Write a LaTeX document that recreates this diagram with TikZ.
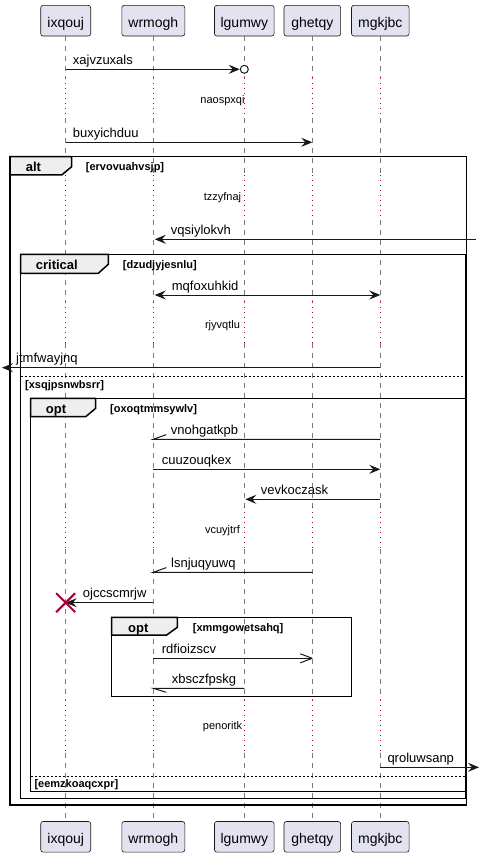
\documentclass[tikz,border=0pt]{standalone}
\usepackage{fontspec}
\setmainfont{Liberation Sans}
\usetikzlibrary{arrows.meta,calc}

\definecolor{partfill}{HTML}{E2E2F0}
\definecolor{ink}{HTML}{181818}
\definecolor{lifegray}{HTML}{7A7A7A}
\definecolor{delayred}{HTML}{A80036}
\definecolor{tabfill}{HTML}{EEEEEE}

\tikzset{
  part/.style={draw=ink, line width=0.6pt, fill=partfill, rounded corners=2.5pt,
    inner sep=0pt, minimum height=30.7pt, text height=13.2pt, text depth=0pt,
    font=\fontsize{14}{16}\selectfont},
  life/.style={lifegray, line width=0.7pt, dash pattern=on 5pt off 5pt},
  delayseg/.style={delayred, line width=0.9pt, dash pattern=on 1pt off 4pt},
  msg/.style={ink, line width=1pt},
  fullhead/.style={-{Stealth[length=11pt,width=9pt,inset=4pt]}},
  bothheads/.style={{Stealth[length=11pt,width=9pt,inset=4pt]}-{Stealth[length=11pt,width=9pt,inset=4pt]}},
  lbl/.style={anchor=base west, inner sep=0pt, font=\fontsize{13}{15}\selectfont},
  delaytxt/.style={anchor=base, inner sep=0pt, font=\fontsize{11}{13}\selectfont},
  frame/.style={draw=black, line width=1.5pt},
  tab/.style={draw=black, fill=tabfill, line width=1.5pt, line join=miter},
  tabtxt/.style={anchor=base west, inner sep=0pt, font=\fontsize{13}{15}\selectfont\bfseries},
  condtxt/.style={anchor=base west, inner sep=0pt, font=\fontsize{11}{13}\selectfont\bfseries},
  elseline/.style={black, line width=1pt, dash pattern=on 2pt off 2pt},
  destroy/.style={delayred, line width=2pt},
}

\begin{document}
\begin{tikzpicture}[x=1pt,y=-1pt]
\useasboundingbox (0,0) rectangle (481,858);

% participants, top and bottom
\node[part, minimum width=50pt]   (ixT) at (65.7,20.7)  {ixqouj};
\node[part, minimum width=63pt]   (wrT) at (153.3,20.7) {wrmogh};
\node[part, minimum width=59.7pt] (lgT) at (244.3,20.7) {lgumwy};
\node[part, minimum width=56.7pt] (ghT) at (312.3,20.7) {ghetqy};
\node[part, minimum width=57.6pt] (mgT) at (380.3,20.7) {mgkjbc};
\node[part, minimum width=50pt]   (ixB) at (65.7,836.8)  {ixqouj};
\node[part, minimum width=63pt]   (wrB) at (153.3,836.8) {wrmogh};
\node[part, minimum width=59.7pt] (lgB) at (244.3,836.8) {lgumwy};
\node[part, minimum width=56.7pt] (ghB) at (312.3,836.8) {ghetqy};
\node[part, minimum width=57.6pt] (mgB) at (380.3,836.8) {mgkjbc};

% delay intervals
\coordinate (d1a) at (0,78);    \coordinate (d1b) at (0,118);
\coordinate (d2a) at (0,175);   \coordinate (d2b) at (0,220);
\coordinate (d3a) at (0,302);   \coordinate (d3b) at (0,343);
\coordinate (d4a) at (0,506.7); \coordinate (d4b) at (0,549);
\coordinate (d5a) at (0,700);   \coordinate (d5b) at (0,753);

% lifelines: dashed, dotted red during delays
\foreach \p in {ix,wr,lg,gh,mg}{
  \draw[life] (\p T.south) -- (\p T |- d1a);
  \draw[delayseg] (\p T |- d1a) -- (\p T |- d1b);
  \draw[life] (\p T |- d1b) -- (\p T |- d2a);
  \draw[delayseg] (\p T |- d2a) -- (\p T |- d2b);
  \draw[life] (\p T |- d2b) -- (\p T |- d3a);
  \draw[delayseg] (\p T |- d3a) -- (\p T |- d3b);
  \draw[life] (\p T |- d3b) -- (\p T |- d4a);
  \draw[delayseg] (\p T |- d4a) -- (\p T |- d4b);
  \draw[life] (\p T |- d4b) -- (\p T |- d5a);
  \draw[delayseg] (\p T |- d5a) -- (\p T |- d5b);
  \draw[life] (\p T |- d5b) -- (\p B.north);
}

% delay captions
\node[delaytxt] (dl1) at (222.5,103.5) {naospxqi};
\node[delaytxt] (dl2) at (222.5,201)   {tzzyfnaj};
\node[delaytxt] (dl3) at (222.5,328.5) {rjyvqtlu};
\node[delaytxt] (dl4) at (222.5,533.5) {vcuyjtrf};
\node[delaytxt] (dl5) at (222.5,729.5) {penoritk};

% group frames
\draw[frame] (10,156.7) rectangle (466.5,805);
\draw[frame] (20.7,254.3) rectangle (465.7,798.3);
\draw[frame] (30.7,398.3) rectangle (465.5,791.7);
\draw[frame] (111.7,617.3) rectangle (351.7,696.7);

\filldraw[tab] (10,156.7) -- (71.7,156.7) -- (71.7,166.7) -- (61.7,175) -- (10,175) -- cycle;
\filldraw[tab] (20.7,254.3) -- (108.3,254.3) -- (108.3,264.3) -- (98.3,273.3) -- (20.7,273.3) -- cycle;
\filldraw[tab] (30.7,398.3) -- (95.7,398.3) -- (95.7,408.3) -- (85.7,416.7) -- (30.7,416.7) -- cycle;
\filldraw[tab] (111.7,617.3) -- (177.3,617.3) -- (177.3,627.3) -- (166.7,635) -- (111.7,635) -- cycle;

\node[tabtxt] (g1) at (25.7,172)   {alt};
\node[tabtxt] (g2) at (35.7,269.6) {critical};
\node[tabtxt] (g3) at (45.7,413.5) {opt};
\node[tabtxt] (g4) at (128,632.3)  {opt};

\node[condtxt] (c1) at (85.7,170.8)  {[ervovuahvsjp]};
\node[condtxt] (c2) at (122.7,268.5) {[dzudjyjesnlu]};
\node[condtxt] (c3) at (110,412.5)   {[oxoqtmmsywlv]};
\node[condtxt] (c4) at (192.7,631.2) {[xmmgowetsahq]};

% else separators
\draw[elseline] (20.7,376) -- (465.7,376);
\node[condtxt] (e1) at (25,388.5) {[xsqjpsnwbsrr]};
\draw[elseline] (30.7,776) -- (465.5,776);
\node[condtxt] (e2) at (34.3,787.8) {[eemzkoaqcxpr]};

% message rows
\coordinate (s1) at (0,69.3);
\coordinate (s2) at (0,142.3);
\coordinate (s3) at (0,239.3);
\coordinate (s4) at (0,295);
\coordinate (s5) at (0,367.7);
\coordinate (s6) at (0,439.3);
\coordinate (s7) at (0,469.3);
\coordinate (s8) at (0,499.3);
\coordinate (s9) at (0,572.3);
\coordinate (s10) at (0,602.7);
\coordinate (s11) at (0,658.3);
\coordinate (s12) at (0,688.3);
\coordinate (s13) at (0,767.3);
\coordinate (lft) at (2,0);
\coordinate (rgtin) at (476,0);
\coordinate (rgtout) at (479,0);

% xajvzuxals: lost-circle ending
\draw[msg, fullhead] (ixT |- s1) -- ($(lgT |- s1)+(-4.6,0)$);
\draw[msg, fill=white] (lgT |- s1) circle (4pt);
\path (ixT |- s1) node[lbl, xshift=7pt, yshift=4.8pt] {xajvzuxals};

% buxyichduu
\draw[msg, fullhead] (ixT |- s2) -- (ghT |- s2);
\path (ixT |- s2) node[lbl, xshift=7pt, yshift=4.8pt] {buxyichduu};

% vqsiylokvh from the right edge
\draw[msg, fullhead] (rgtin |- s3) -- ($(wrT |- s3)+(1.5,0)$);
\path (wrT |- s3) node[lbl, xshift=17.4pt, yshift=4.8pt] {vqsiylokvh};

% mqfoxuhkid both ways
\draw[msg, bothheads] ($(wrT |- s4)+(1.5,0)$) -- (mgT |- s4);
\path (wrT |- s4) node[lbl, xshift=18.4pt, yshift=4.8pt] {mqfoxuhkid};

% jtmfwayjnq to the left edge
\draw[msg, fullhead] (mgT |- s5) -- (lft |- s5);
\path (lft |- s5) node[lbl, xshift=14pt, yshift=4.8pt] {jtmfwayjnq};

% vnohgatkpb, upper half head
\draw[msg] (mgT |- s6) -- (wrT |- s6) -- +(13,-4.7);
\path (wrT |- s6) node[lbl, xshift=17.4pt, yshift=4.8pt] {vnohgatkpb};

% cuuzouqkex
\draw[msg, fullhead] (wrT |- s7) -- (mgT |- s7);
\path (wrT |- s7) node[lbl, xshift=8.4pt, yshift=4.8pt] {cuuzouqkex};

% vevkoczask
\draw[msg, fullhead] (mgT |- s8) -- ($(lgT |- s8)+(1,0)$);
\path (lgT |- s8) node[lbl, xshift=16.4pt, yshift=4.8pt] {vevkoczask};

% lsnjuqyuwq, upper half head
\draw[msg] (ghT |- s9) -- (wrT |- s9) -- +(13,-4.7);
\path (wrT |- s9) node[lbl, xshift=17.7pt, yshift=4.8pt] {lsnjuqyuwq};

% ojccscmrjw with destruction
\draw[msg, fullhead] (wrT |- s10) -- (ixT |- s10);
\path (ixT |- s10) node[lbl, xshift=17pt, yshift=4.8pt] {ojccscmrjw};
\draw[destroy] (ixT |- s10) +(-9.5,-9.5) -- +(9.5,9.5) +(-9.5,9.5) -- +(9.5,-9.5);

% rdfioizscv, open head
\draw[msg] (wrT |- s11) -- (ghT |- s11);
\draw[msg] (ghT |- s11) -- +(-12,-4.5) (ghT |- s11) -- +(-12,4.5);
\path (wrT |- s11) node[lbl, xshift=8.4pt, yshift=4.8pt] {rdfioizscv};

% xbsczfpskg, lower half head
\draw[msg] (lgT |- s12) -- (wrT |- s12) -- +(13,4);
\path (wrT |- s12) node[lbl, xshift=18.4pt, yshift=4.8pt] {xbsczfpskg};

% qroluwsanp to the right edge
\draw[msg, fullhead] (mgT |- s13) -- (rgtout |- s13);
\path (mgT |- s13) node[lbl, xshift=7pt, yshift=4.8pt] {qroluwsanp};

\end{tikzpicture}
\end{document}
